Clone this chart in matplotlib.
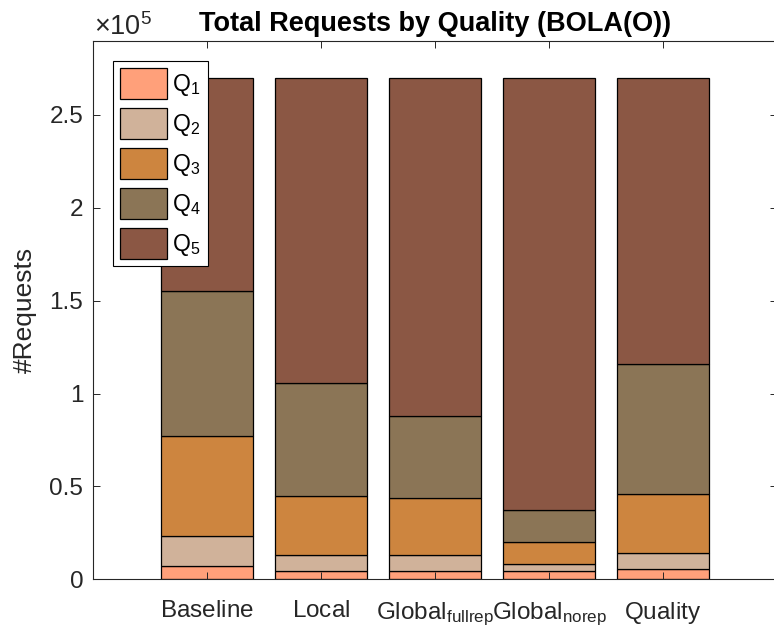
import matplotlib
matplotlib.use("Agg")
import matplotlib.pyplot as plt
import numpy as np

plt.rcParams['font.family'] = ['Liberation Sans', 'DejaVu Sans']
plt.rcParams['mathtext.fontset'] = 'custom'
plt.rcParams['mathtext.rm'] = 'Liberation Sans'
plt.rcParams['mathtext.it'] = 'Liberation Sans:italic'
plt.rcParams['mathtext.bf'] = 'Liberation Sans:bold'
plt.rcParams['mathtext.default'] = 'regular'

# ---- data ----
categories = ['$Baseline$', '$Local$', '$Global_{fullrep}$', '$Global_{norep}$', '$Quality$']
series_names = ['Q$_1$', 'Q$_2$', 'Q$_3$', 'Q$_4$', 'Q$_5$']
q1 = [7000, 4600, 4600, 4500, 5700]
q2 = [16300, 8500, 8500, 3700, 8600]
q3 = [54100, 31900, 30500, 11700, 31500]
q4 = [77900, 60600, 44500, 17400, 70200]
q5 = [114700, 164400, 181900, 232700, 154000]
colors = ['#FFA07A', '#D0B29A', '#CD853F', '#8B7556', '#8B5744']
ytick_vals = [0, 50000, 100000, 150000, 200000, 250000]
ytick_labels = ['0', '0.5', '1', '1.5', '2', '2.5']

series = [q1, q2, q3, q4, q5]

fig = plt.figure(figsize=(7.74, 6.33), dpi=100)
ax = fig.add_axes([93/774, 53.7/633, 684/774, 538.6/633])

x = np.arange(1, len(categories) + 1)
bottom = np.zeros(len(categories))
for vals, name, c in zip(series, series_names, colors):
    ax.bar(x, vals, width=0.8, bottom=bottom, color=c, edgecolor='black',
           linewidth=0.9, label=name)
    bottom += np.array(vals)

ax.set_xlim(0, 6)
ax.set_ylim(0, 290000)
ax.set_xticks(x)
ax.set_xticklabels(categories)
ax.set_yticks(ytick_vals)
ax.set_yticklabels(ytick_labels)

ax.tick_params(axis='both', direction='in', length=5, width=0.7, colors='#262626',
               top=True, right=True, labelsize=17.5)
ax.tick_params(axis='x', pad=15)
ax.tick_params(axis='y', pad=7)
for s in ax.spines.values():
    s.set_color('#262626')
    s.set_linewidth(0.8)

ax.set_ylabel('#Requests', fontsize=19, color='#262626')
ax.yaxis.set_label_coords((37 - 93) / 684, 0.5)
ax.set_title('Total Requests by Quality (BOLA(O))', fontsize=19.5, fontweight='bold', pad=7)

fig.text(94/774, 1 - 35/633, r'$\times10^5$', fontsize=19.5, color='#262626',
         ha='left', va='baseline')

leg = ax.legend(loc='upper left', bbox_to_anchor=((113 - 93) / 684, (579.3 - 61) / 538.6),
                borderaxespad=0, fontsize=16.5, handlelength=2.05, handleheight=1.706,
                labelspacing=0.39, borderpad=0.31, handletextpad=0.22,
                fancybox=False, framealpha=1, edgecolor='black')
leg.get_frame().set_linewidth(0.8)

fig.savefig('out.png', dpi=100)
